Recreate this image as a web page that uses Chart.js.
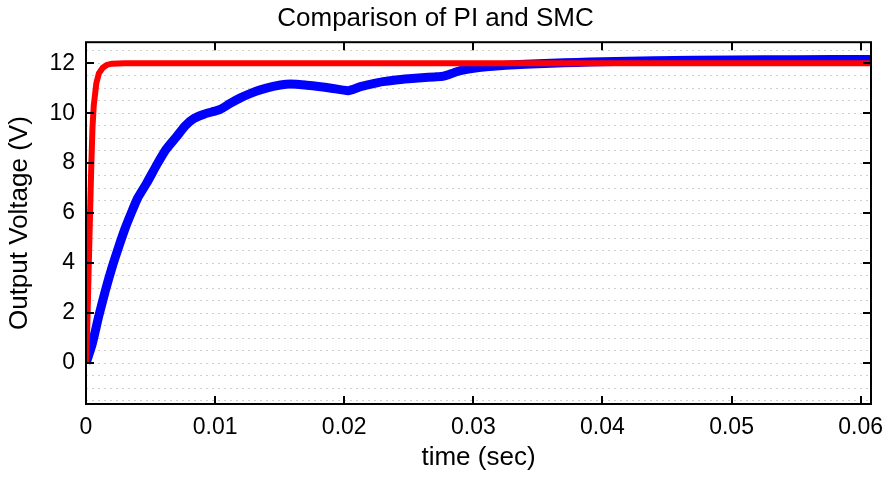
<!DOCTYPE html>
<html>
<head>
<meta charset="utf-8">
<script src="https://cdn.jsdelivr.net/npm/chart.js@4.4.1/dist/chart.umd.min.js"></script>
<style>
  body { margin: 0; background: #fff; }
</style>
</head>
<body>
<canvas id="grafica" width="885" height="481"></canvas>
<script>
const ctx = document.getElementById('grafica').getContext('2d');

// SMC (red) response
const timeSmc = [0, 0.0001, 0.0002, 0.0003, 0.0004, 0.0005, 0.0006, 0.0008, 0.001, 0.0013, 0.0016, 0.002, 0.003, 0.0608];
const voltSmc = [0, 1.5, 3.6, 5.7, 7.7, 9.4, 10.3, 11.2, 11.6, 11.82, 11.93, 11.98, 12.0, 12.0];

// PI (blue) response
const timePi = [0, 0.0002, 0.0005, 0.001, 0.0015, 0.002, 0.0025, 0.003, 0.0035, 0.004, 0.0047, 0.0055, 0.0062, 0.007, 0.0077, 0.0084, 0.0092, 0.0099, 0.0104, 0.0112, 0.012, 0.0128, 0.0135, 0.0145, 0.0155, 0.0163, 0.0171, 0.018, 0.019, 0.0203, 0.0212, 0.022, 0.023, 0.024, 0.025, 0.026, 0.027, 0.0277, 0.0285, 0.029, 0.030, 0.031, 0.0325, 0.034, 0.036, 0.038, 0.040, 0.044, 0.05, 0.055, 0.0608];
const voltPi = [0, 0.3, 0.8, 1.9, 2.9, 3.8, 4.6, 5.35, 6.0, 6.6, 7.2, 7.95, 8.55, 9.05, 9.5, 9.8, 9.97, 10.07, 10.15, 10.4, 10.62, 10.8, 10.93, 11.07, 11.16, 11.16, 11.12, 11.07, 11.0, 10.9, 11.05, 11.15, 11.26, 11.33, 11.38, 11.42, 11.45, 11.48, 11.62, 11.7, 11.8, 11.86, 11.92, 11.96, 12.0, 12.03, 12.06, 12.1, 12.13, 12.14, 12.15];

const xTicks = [0, 0.01, 0.02, 0.03, 0.04, 0.05, 0.06];
const yTicks = [0, 2, 4, 6, 8, 10, 12];
const yGrid = [];
for (let v = -1.5; v <= 12.5; v += 0.5) yGrid.push(v);

const fontName = "'Liberation Sans', Arial, sans-serif";

function toPoints(xs, ys) {
    return xs.map((x, i) => ({ x: x, y: ys[i] }));
}

// box frame and inward tick marks
const frameTicks = {
    id: 'frameTicks',
    afterDraw(chart) {
        const c = chart.ctx;
        const a = chart.chartArea;
        const sx = chart.scales.x;
        const sy = chart.scales.y;
        c.save();
        c.strokeStyle = '#000';
        c.lineWidth = 2;
        c.strokeRect(a.left, a.top, a.right - a.left, a.bottom - a.top);
        c.beginPath();
        xTicks.forEach(v => {
            const px = Math.round(sx.getPixelForValue(v));
            c.moveTo(px, a.bottom); c.lineTo(px, a.bottom - 8);
            c.moveTo(px, a.top); c.lineTo(px, a.top + 8);
        });
        yTicks.forEach(v => {
            const py = Math.round(sy.getPixelForValue(v));
            c.moveTo(a.left, py); c.lineTo(a.left + 8, py);
            c.moveTo(a.right, py); c.lineTo(a.right - 8, py);
        });
        c.stroke();
        c.restore();
    }
};

const config = {
    type: 'line',
    data: {
        datasets: [{
            label: 'SMC',
            data: toPoints(timeSmc, voltSmc),
            borderColor: 'rgb(255, 0, 0)',
            borderWidth: 6,
            pointRadius: 0,
            tension: 0
        }, {
            label: 'PI',
            data: toPoints(timePi, voltPi),
            borderColor: 'rgb(0, 0, 255)',
            borderWidth: 9,
            pointRadius: 0,
            tension: 0.2
        }]
    },
    options: {
        responsive: false,
        animation: false,
        layout: { padding: { left: 0, right: 14, top: 0, bottom: 0 } },
        plugins: {
            legend: { display: false },
            tooltip: { enabled: false },
            title: {
                display: true,
                text: 'Comparison of PI and SMC',
                color: '#000',
                font: { family: fontName, size: 26, weight: 'normal' },
                padding: { top: 3, bottom: 8 }
            }
        },
        scales: {
            x: {
                type: 'linear',
                min: 0,
                max: 0.0608,
                afterBuildTicks: s => { s.ticks = xTicks.map(v => ({ value: v })); },
                afterFit: s => { s.height = 77; s.paddingLeft = 0; s.paddingRight = 0; },
                grid: { display: false, drawTicks: false },
                border: { display: false },
                ticks: {
                    color: '#000',
                    padding: 10,
                    autoSkip: false,
                    maxRotation: 0,
                    font: { family: fontName, size: 23 },
                    callback: v => String(Number(v.toFixed(2)))
                },
                title: {
                    display: true,
                    text: 'time (sec)',
                    color: '#000',
                    font: { family: fontName, size: 26 },
                    padding: { top: 0, bottom: 8 }
                }
            },
            y: {
                type: 'linear',
                min: -1.64,
                max: 12.84,
                afterBuildTicks: s => { s.ticks = yGrid.map(v => ({ value: v })); },
                afterFit: s => { s.width = 86; },
                grid: {
                    color: '#d0d0d0',
                    lineWidth: 1,
                    drawTicks: false
                },
                border: { display: false, dash: [2, 4] },
                ticks: {
                    color: '#000',
                    padding: 11,
                    autoSkip: false,
                    font: { family: fontName, size: 23 },
                    callback: v => (yTicks.includes(v) ? String(v) : '')
                },
                title: {
                    display: true,
                    text: 'Output Voltage (V)',
                    color: '#000',
                    font: { family: fontName, size: 26 },
                    padding: { top: 4, bottom: 0 }
                }
            }
        }
    },
    plugins: [frameTicks]
};

window.myChart = new Chart(ctx, config);
</script>
</body>
</html>
